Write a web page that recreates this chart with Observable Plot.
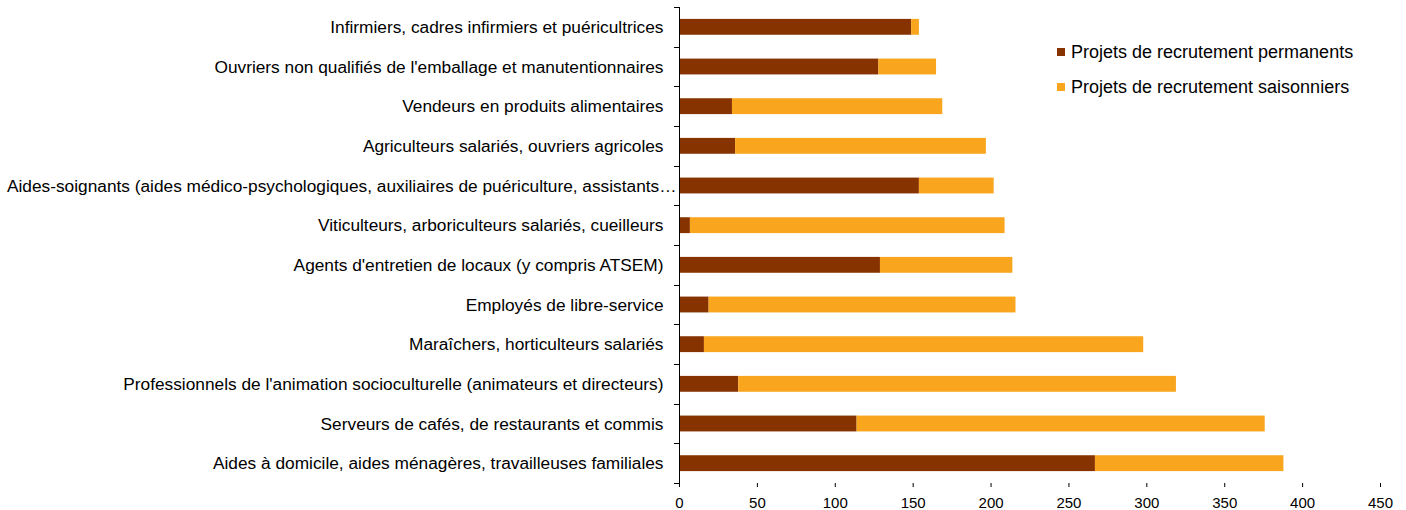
<!DOCTYPE html>
<html>
<head>
<meta charset="utf-8">
<script src="https://cdn.jsdelivr.net/npm/d3@7"></script>
<script src="https://cdn.jsdelivr.net/npm/@observablehq/plot@0.6"></script>
<style>
  html, body { margin: 0; padding: 0; background: #fff; }
  #wrap { position: relative; width: 1406px; height: 510px; font-family: "Liberation Sans", Arial, sans-serif; }
  #legend { position: absolute; left: 1057px; top: 40px; font-size: 18px; color: #000; }
  .row { display: flex; align-items: center; height: 24px; margin-bottom: 11px; white-space: nowrap; }
  .sw { width: 8px; height: 8px; margin-right: 6px; flex: none; }
</style>
</head>
<body>
<div id="wrap"></div>
<script>
const categories = [
  "Infirmiers, cadres infirmiers et puéricultrices",
  "Ouvriers non qualifiés de l'emballage et manutentionnaires",
  "Vendeurs en produits alimentaires",
  "Agriculteurs salariés, ouvriers agricoles",
  "Aides-soignants (aides médico-psychologiques, auxiliaires de puériculture, assistants…",
  "Viticulteurs, arboriculteurs salariés, cueilleurs",
  "Agents d'entretien de locaux (y compris ATSEM)",
  "Employés de libre-service",
  "Maraîchers, horticulteurs salariés",
  "Professionnels de l'animation socioculturelle (animateurs et directeurs)",
  "Serveurs de cafés, de restaurants et commis",
  "Aides à domicile, aides ménagères, travailleuses familiales"
];
const permanents  = [149, 128, 34, 36, 154, 7, 129, 19, 16, 38, 114, 267];
const saisonniers = [5, 37, 135, 161, 48, 202, 85, 197, 282, 281, 262, 121];
const seriesNames = ["Projets de recrutement permanents", "Projets de recrutement saisonniers"];
const seriesColors = ["#873300", "#F9A61E"];
const xTicks = [0, 50, 100, 150, 200, 250, 300, 350, 400, 450];

const truncatedLabel = categories[4];
const normalLabels = categories.filter(c => c !== truncatedLabel);

const data = [];
categories.forEach((c, i) => {
  data.push({category: c, series: seriesNames[0], value: permanents[i]});
  data.push({category: c, series: seriesNames[1], value: saisonniers[i]});
});

const W = 1406, H = 510, mt = 7, mb = 27, ml = 679, mr = 26;
const step = (H - mt - mb) / categories.length;

const chart = Plot.plot({
  width: W,
  height: H,
  marginTop: mt,
  marginBottom: mb,
  marginLeft: ml,
  marginRight: mr,
  style: {fontFamily: "'Liberation Sans', Arial, sans-serif", fontSize: "15px", color: "#000", background: "#fff"},
  x: {domain: [0, 450], axis: null},
  y: {domain: categories, paddingInner: 0.6, paddingOuter: 0.3, round: false, axis: null},
  color: {domain: seriesNames, range: seriesColors},
  marks: [
    Plot.barX(data, {x: "value", y: "category", fill: "series", order: seriesNames}),
    Plot.ruleX([0], {stroke: "#000", shapeRendering: "crispEdges"}),
    Plot.ruleY(categories, {y: d => d, x1: 0, x2: 0, insetLeft: -5, dy: -step / 2, stroke: "#000", shapeRendering: "crispEdges"}),
    Plot.ruleY([categories[categories.length - 1]], {y: d => d, x1: 0, x2: 0, insetLeft: -5, dy: step / 2, stroke: "#000", shapeRendering: "crispEdges"}),
    Plot.axisX({ticks: xTicks, tickSize: 4, tickPadding: 10, line: true, label: null, fontSize: 15, stroke: "#000", color: "#000"}),
    Plot.axisY({ticks: normalLabels, tickSize: 0, tickPadding: 16, fontSize: 17.3, label: null, color: "#000"}),
    Plot.axisY({ticks: [truncatedLabel], tickSize: 0, tickPadding: 3, fontSize: 17.3, label: null, color: "#000"})
  ]
});

const wrap = document.getElementById("wrap");
wrap.appendChild(chart);

const legend = document.createElement("div");
legend.id = "legend";
seriesNames.forEach((name, i) => {
  const row = document.createElement("div");
  row.className = "row";
  const sw = document.createElement("span");
  sw.className = "sw";
  sw.style.background = seriesColors[i];
  const t = document.createElement("span");
  t.textContent = name;
  row.appendChild(sw);
  row.appendChild(t);
  legend.appendChild(row);
});
wrap.appendChild(legend);
</script>
</body>
</html>
